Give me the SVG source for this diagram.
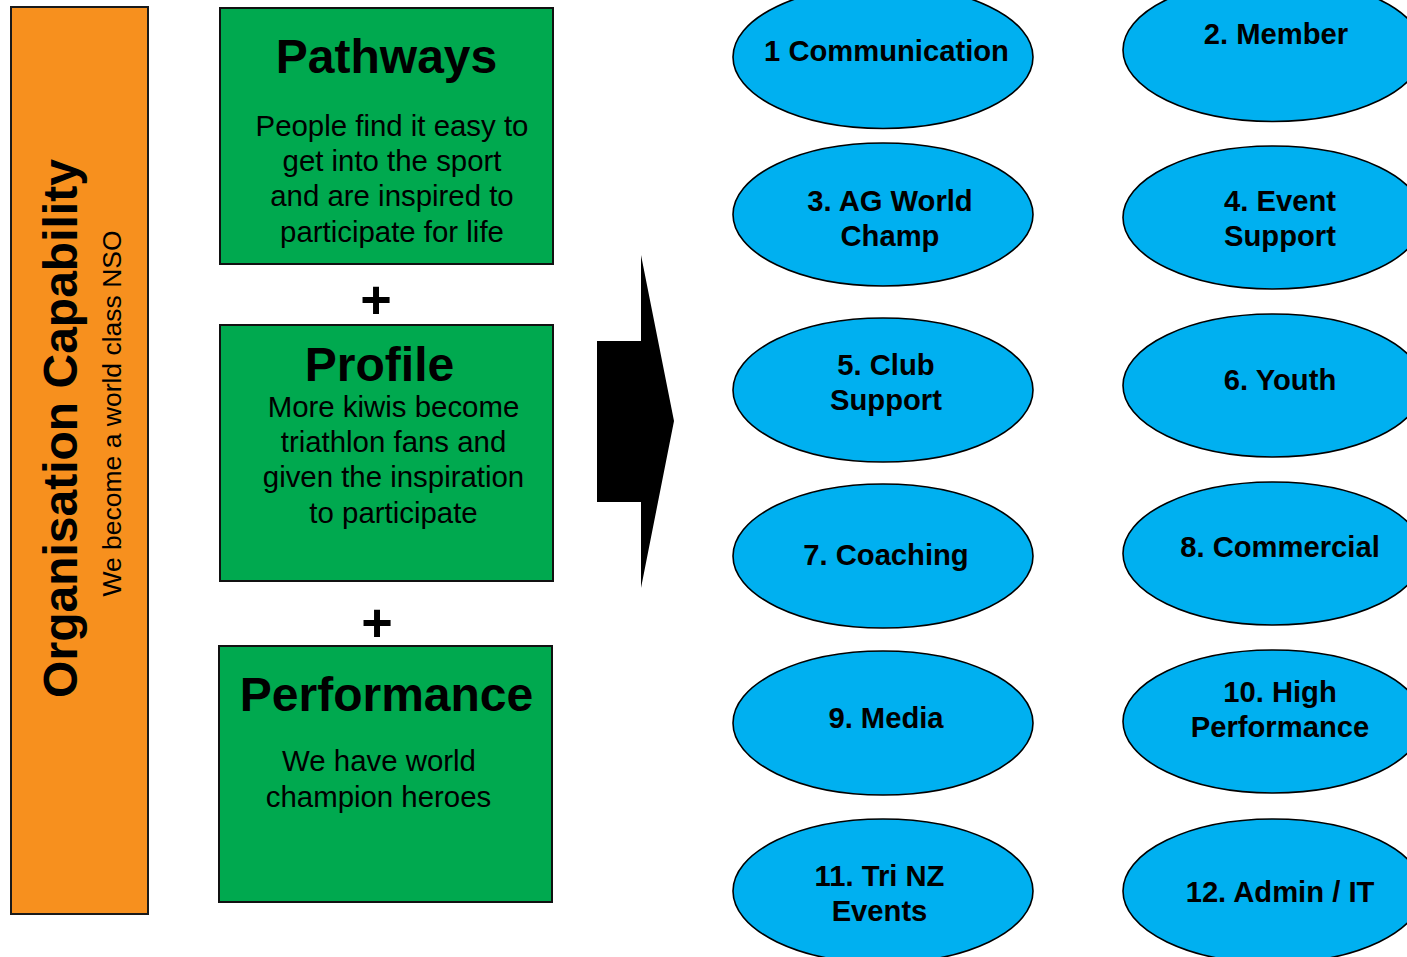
<svg xmlns="http://www.w3.org/2000/svg" width="1407" height="957" viewBox="0 0 1407 957">
  <style>
    .bar { fill: #F7901E; stroke: #1a1a1a; stroke-width: 2; }
    .box { fill: #00A94F; stroke: #111; stroke-width: 2; }
    .oval { fill: #00B0F0; stroke: #000; stroke-width: 1.6; }
    .t { font-family: "Liberation Sans", Arial, sans-serif; fill: #000; text-anchor: middle; }
    .title { font-size: 48px; font-weight: bold; }
    .body { font-size: 29.4px; }
    .lbl { font-size: 29.2px; font-weight: bold; }
    .plus { font-size: 54px; font-weight: bold; }
  </style>

  <rect width="1407" height="957" fill="#fff"/>

  <!-- left capability bar -->
  <g id="capability">
    <rect class="bar" x="11" y="7" width="137" height="907"/>
    <text class="t title" transform="translate(77 428.5) rotate(-90)">Organisation Capability</text>
    <text class="t" style="font-size:26.5px" transform="translate(121 413.5) rotate(-90)">We become a world class NSO</text>
  </g>

  <!-- goal boxes -->
  <g id="pathways">
    <rect class="box" x="220" y="8" width="333" height="256"/>
    <text class="t title" x="386.5" y="73">Pathways</text>
    <text class="t body" x="392" y="136">People find it easy to</text>
    <text class="t body" x="392" y="171">get into the sport</text>
    <text class="t body" x="392" y="206">and are inspired to</text>
    <text class="t body" x="392" y="242">participate for life</text>
  </g>

  <g id="plus-1"><text class="t plus" x="376" y="318">+</text></g>

  <g id="profile">
    <rect class="box" x="220" y="325" width="333" height="256"/>
    <text class="t title" x="379.5" y="381">Profile</text>
    <text class="t body" x="393.5" y="417">More kiwis become</text>
    <text class="t body" x="393.5" y="452">triathlon fans and</text>
    <text class="t body" x="393.5" y="487">given the inspiration</text>
    <text class="t body" x="393.5" y="523">to participate</text>
  </g>

  <g id="plus-2"><text class="t plus" x="377" y="641">+</text></g>

  <g id="performance">
    <rect class="box" x="219" y="646" width="333" height="256"/>
    <text class="t title" x="386.5" y="711">Performance</text>
    <text class="t body" x="379" y="771">We have world</text>
    <text class="t body" x="378.5" y="807">champion heroes</text>
  </g>

  <!-- block arrow leading to the workstreams -->
  <g id="connectors">
    <polygon points="597,341 641,341 641,255 674,421 641,588 641,502 597,502" fill="#000"/>
  </g>

  <!-- workstreams, column one -->
  <g id="ws-1"><ellipse class="oval" cx="883" cy="57" rx="150" ry="71.5"/>
    <text class="t lbl" x="886.5" y="61">1 Communication</text></g>
  <g id="ws-3"><ellipse class="oval" cx="883" cy="214.5" rx="150" ry="71.5"/>
    <text class="t lbl" x="890" y="211">3. AG World</text>
    <text class="t lbl" x="890" y="246">Champ</text></g>
  <g id="ws-5"><ellipse class="oval" cx="883" cy="390" rx="150" ry="72"/>
    <text class="t lbl" x="886" y="375">5. Club</text>
    <text class="t lbl" x="886" y="410">Support</text></g>
  <g id="ws-7"><ellipse class="oval" cx="883" cy="556" rx="150" ry="72"/>
    <text class="t lbl" x="886" y="565">7. Coaching</text></g>
  <g id="ws-9"><ellipse class="oval" cx="883" cy="723" rx="150" ry="72"/>
    <text class="t lbl" x="886" y="728">9. Media</text></g>
  <g id="ws-11"><ellipse class="oval" cx="883" cy="891" rx="150" ry="72"/>
    <text class="t lbl" x="879.5" y="886">11. Tri NZ</text>
    <text class="t lbl" x="879.5" y="921">Events</text></g>

  <!-- workstreams, column two -->
  <g id="ws-2"><ellipse class="oval" cx="1273" cy="50" rx="150" ry="71.5"/>
    <text class="t lbl" x="1276" y="44">2. Member</text></g>
  <g id="ws-4"><ellipse class="oval" cx="1273" cy="217.5" rx="150" ry="71.5"/>
    <text class="t lbl" x="1280" y="211">4. Event</text>
    <text class="t lbl" x="1280" y="246">Support</text></g>
  <g id="ws-6"><ellipse class="oval" cx="1273" cy="385.5" rx="150" ry="71.5"/>
    <text class="t lbl" x="1280" y="390">6. Youth</text></g>
  <g id="ws-8"><ellipse class="oval" cx="1273" cy="553.5" rx="150" ry="71.5"/>
    <text class="t lbl" x="1280" y="557">8. Commercial</text></g>
  <g id="ws-10"><ellipse class="oval" cx="1273" cy="721.5" rx="150" ry="71.5"/>
    <text class="t lbl" x="1280" y="702">10. High</text>
    <text class="t lbl" x="1280" y="737">Performance</text></g>
  <g id="ws-12"><ellipse class="oval" cx="1273" cy="891" rx="150" ry="72"/>
    <text class="t lbl" x="1280" y="902">12. Admin / IT</text></g>
</svg>
